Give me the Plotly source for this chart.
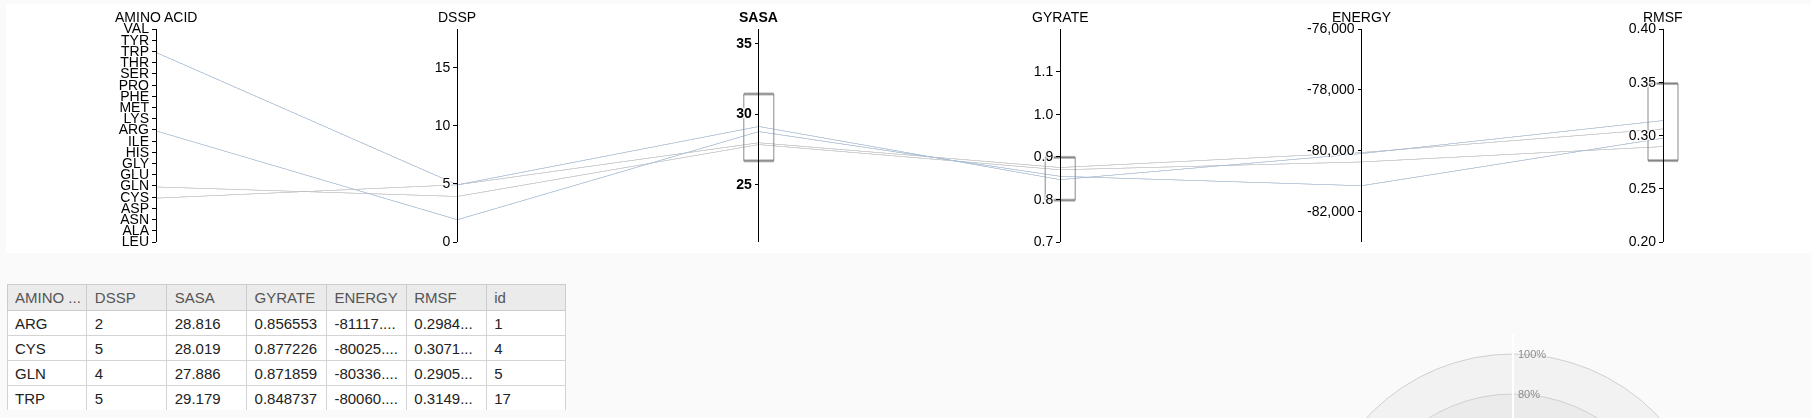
import plotly.graph_objects as go

W, H = 1811, 418

# amino acid order on the first axis (bottom -> top)
amino_order = ['LEU', 'ALA', 'ASN', 'ASP', 'CYS', 'GLN', 'GLU', 'GLY', 'HIS', 'ILE',
               'ARG', 'LYS', 'MET', 'PHE', 'PRO', 'SER', 'THR', 'TRP', 'TYR', 'VAL']

# selected rows
amino = ['ARG', 'CYS', 'GLN', 'TRP']
dssp = [2, 5, 4, 5]
sasa = [28.816, 28.019, 27.886, 29.179]
gyrate = [0.856553, 0.877226, 0.871859, 0.848737]
energy = [-81117.2, -80025.4, -80336.1, -80060.3]
rmsf = [0.29842, 0.30714, 0.29053, 0.31495]
row_id = [1, 4, 5, 17]
line_group = [1, 0, 0, 1]

# axis titles and ranges
dim_titles = ['AMINO ACID', 'DSSP', '<b>SASA</b>', 'GYRATE', 'ENERGY', 'RMSF']
dssp_range = [0, 18.3]
sasa_range = [20.86, 36.07]
gyrate_range = [0.7, 1.2]
energy_range = [-83000, -76000]
rmsf_range = [0.2, 0.4]

# table text as displayed
tbl_header = ['AMINO\u00a0...', 'DSSP', 'SASA', 'GYRATE', 'ENERGY', 'RMSF', 'id']
tbl_energy = ['-81117....', '-80025....', '-80336....', '-80060....']
tbl_rmsf = ['0.2984...', '0.3071...', '0.2905...', '0.3149...']

# brushed ranges: (dimension index, range, axis range)
brushes = [(2, [26.7, 31.45], sasa_range),
           (3, [0.8, 0.9], gyrate_range),
           (5, [0.277, 0.349], rmsf_range)]

# radar grid levels (percent)
radar_levels = [100, 80, 60, 40, 20]

font = 'Liberation Sans, Arial, sans-serif'
codes = [amino_order.index(a) for a in amino]

vpad = 2  # parcoords inner vertical padding (px)
par_x = [156 / W, 1663 / W]
par_y = [1 - (243 + vpad) / H, 1 - (29 - vpad) / H]

par = go.Parcoords(
    domain=dict(x=par_x, y=par_y),
    line=dict(color=line_group, colorscale=[[0, '#c6cacf'], [1, '#a2c2e4']],
              cmin=0, cmax=1),
    labelfont=dict(family=font, size=14, color='#000'),
    tickfont=dict(family=font, size=14, color='#000'),
    dimensions=[
        dict(label='', values=codes, range=[0, len(amino_order) - 1],
             tickvals=list(range(len(amino_order))), ticktext=amino_order),
        dict(label='', values=dssp, range=dssp_range,
             tickvals=[0, 5, 10, 15, dssp_range[1]], ticktext=['0', '5', '10', '15', ' ']),
        dict(label='', values=sasa, range=sasa_range,
             tickvals=[sasa_range[0], 25, 30, 35, sasa_range[1]],
             ticktext=[' ', '25', '30', '35', '\u00a0']),
        dict(label='', values=gyrate, range=gyrate_range,
             tickvals=[0.7, 0.8, 0.9, 1.0, 1.1, gyrate_range[1]],
             ticktext=['0.7', '0.8', '0.9', '1.0', '1.1', ' ']),
        dict(label='', values=energy, range=energy_range,
             tickvals=[energy_range[0], -82000, -80000, -78000, -76000],
             ticktext=[' ', '-82,000', '-80,000', '-78,000', '-76,000']),
        dict(label='', values=rmsf, range=rmsf_range,
             tickvals=[0.2, 0.25, 0.3, 0.35, 0.4],
             ticktext=['0.20', '0.25', '0.30', '0.35', '0.40']),
    ],
)

tbl = go.Table(
    domain=dict(x=[7 / W, 566 / W], y=[1 - 410 / H, 1 - 284 / H]),
    columnwidth=[80] * 7,
    header=dict(values=tbl_header, height=26, align='left',
                fill_color='#ebebeb', line_color='#cccccc',
                font=dict(family=font, size=15, color='#555')),
    cells=dict(values=[amino, dssp, [f'{v:.3f}' for v in sasa],
                       [f'{v:.6f}' for v in gyrate], tbl_energy, tbl_rmsf, row_id],
               height=25, align='left', fill_color='white', line_color='#d4d4d4',
               font=dict(family=font, size=15, color='#222')),
)

fig = go.Figure([par, tbl])

# radar grid (cut off by the bottom of the page)
radar_axis_top = 110
fig.add_trace(go.Scatter(x=[0, 0], y=[0, radar_axis_top], mode='lines',
                         line=dict(color='white', width=2), hoverinfo='skip',
                         showlegend=False, xaxis='x', yaxis='y'))
ring_fill = ['#f2f2f2', '#ebebeb', '#e6e6e6', '#e1e1e1', '#dcdcdc']
for lvl, fc in zip(radar_levels, ring_fill):
    fig.add_shape(type='circle', xref='x', yref='y', x0=-lvl, x1=lvl, y0=-lvl, y1=lvl,
                  fillcolor=fc, line=dict(color='#d0d0d0', width=1), layer='below')
    fig.add_annotation(x=0, y=lvl, xref='x', yref='y', text=f'{lvl}%', showarrow=False,
                       xanchor='left', yanchor='middle', xshift=3,
                       font=dict(family=font, size=11, color='#8c8c8c'))

# overlay axis matching the parcoords columns (one unit per column)
n_gaps = len(dim_titles) - 1
px_per_unit = (par_x[1] - par_x[0]) * W / n_gaps
extra = 30 / px_per_unit
x2_domain = [par_x[0] - 30 / W, par_x[1] + 30 / W]

# axis titles
for i, t in enumerate(dim_titles):
    fig.add_annotation(x=i, y=1 - 17 / H, xref='x2', yref='paper', text=t,
                       showarrow=False, xanchor='center', yanchor='middle',
                       font=dict(family=font, size=14, color='#000'))

# brush boxes drawn on invisible overlay axes matching the parcoords axes
half = 15 / px_per_unit
for k, (dim, (lo, hi), rng) in enumerate(brushes):
    yname = f'y{k + 3}'
    span = rng[1] - rng[0]
    ext = span * vpad / ((par_y[1] - par_y[0]) * H - 2 * vpad)
    fig.layout[f'yaxis{k + 3}'] = dict(domain=par_y, range=[rng[0] - ext, rng[1] + ext],
                                       anchor='x2', visible=False, fixedrange=True)
    fig.add_trace(go.Scatter(x=[None], y=[None], xaxis='x2', yaxis=yname,
                             showlegend=False, hoverinfo='skip'))
    fig.add_shape(type='rect', xref='x2', yref=yname, x0=dim - half, x1=dim + half,
                  y0=lo, y1=hi, line=dict(color='#8a8a8a', width=1), layer='above')
    for v in (lo, hi):
        fig.add_shape(type='line', xref='x2', yref=yname, x0=dim - half, x1=dim + half,
                      y0=v, y1=v, line=dict(color='rgba(120,120,120,0.55)', width=3),
                      layer='above')

# white panel behind the parallel coordinates
fig.add_shape(type='rect', xref='paper', yref='paper', x0=6 / W, x1=1,
              y0=1 - 253 / H, y1=1 - 4 / H, fillcolor='white', line_width=0,
              layer='below')

fig.update_layout(
    width=W, height=H, margin=dict(l=0, r=0, t=0, b=0),
    paper_bgcolor='#fafafa', plot_bgcolor='rgba(0,0,0,0)',
    xaxis=dict(domain=[1300 / W, 1], range=[-106.5, 149], visible=False, fixedrange=True),
    yaxis=dict(domain=[0, 1 - 300 / H], range=[68, 127], visible=False, fixedrange=True),
    xaxis2=dict(domain=x2_domain, range=[-extra, n_gaps + extra], anchor='y3',
                visible=False, fixedrange=True),
    showlegend=False,
)

# page setup: no body margin, solid black parcoords axes without outer ticks,
# no marks on the blank end ticks, bold ticks on the active (SASA) axis
page_js = """
document.body.style.margin='0';
document.body.style.background='#fafafa';
var s=document.createElement('style');
s.textContent='g.axis path.domain, g.axis g.tick line{stroke:#000 !important;stroke-opacity:1 !important;}';
document.head.appendChild(s);
function fixTicks(){
  document.querySelectorAll('g.axis path.domain').forEach(function(p){
    try {
      var b=p.getBBox();
      if(b.height>0) p.setAttribute('d','M0,'+b.y+'V'+(b.y+b.height));
    } catch(e) {}
  });
  document.querySelectorAll('g.axis g.tick').forEach(function(t){
    var tx=t.querySelector('text'); var ln=t.querySelector('line');
    if(!tx) return;
    var v=tx.textContent.replace(/[\\s\\u00a0]/g,'');
    var w=0; try { w=tx.getBBox().width; } catch(e) {}
    if((v==='' || w<2) && ln) ln.style.display='none';
    if(v==='25'||v==='30'||v==='35') tx.style.fontWeight='bold';
  });
}
fixTicks(); setTimeout(fixTicks, 50); setTimeout(fixTicks, 300);
"""
fig.write_html("out.html", config={'displayModeBar': False}, post_script=page_js)
